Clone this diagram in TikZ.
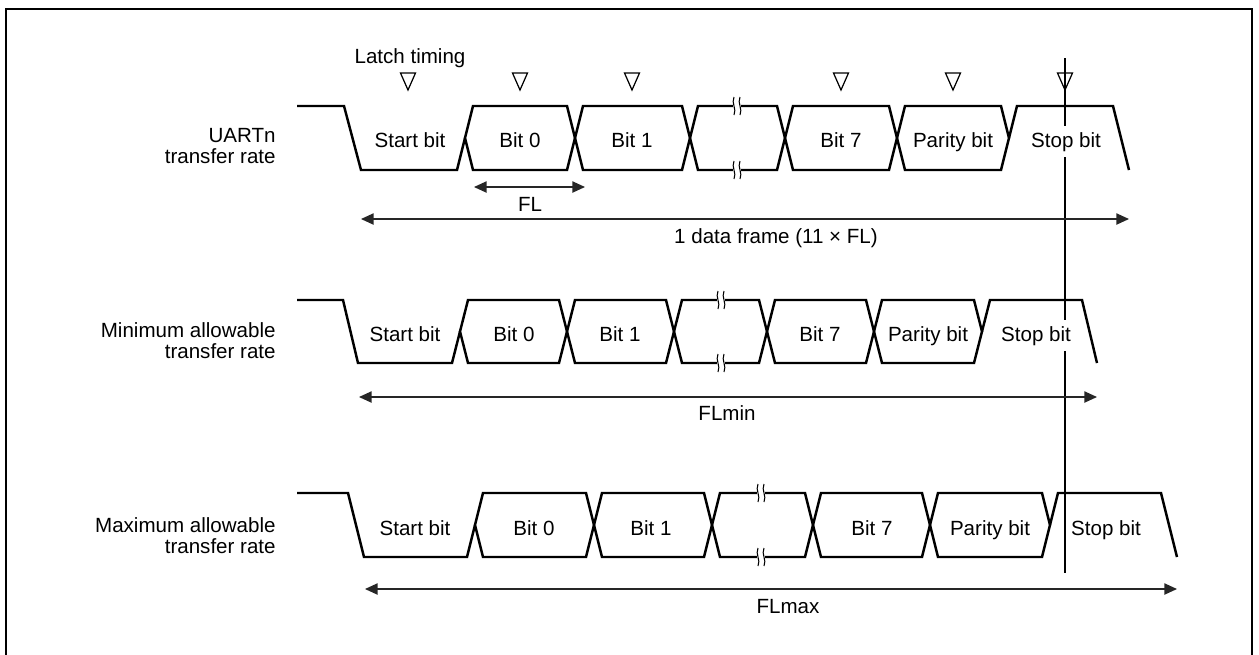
\documentclass[tikz,border=0pt]{standalone}
\usepackage{fontspec}
\setmainfont{Liberation Sans}
\usetikzlibrary{arrows.meta}

\begin{document}
\begin{tikzpicture}[x=0.02cm, y=-0.02cm, font=\fontsize{11.7}{12}\selectfont, >={Triangle[length=7.2pt,width=6.4pt]}]
    	\tikzstyle{wave}=[line width=1.4pt, line join=miter]
    	\tikzstyle{brk}=[line width=0.6pt]
    	\tikzstyle{latch}=[line width=0.7pt, line join=miter]
    	\tikzstyle{dim}=[<->, line width=0.8pt, draw=black!85]
    	\tikzstyle{bit}=[anchor=base, inner sep=0pt]
    	\tikzstyle{rate}=[anchor=north east, align=right, inner sep=0pt]

    	\useasboundingbox (0,0) rectangle (1259,654);
    	% Frame
    	\draw[line width=1.5pt] (6,656) -- (6,9) -- (1252,9) -- (1252,656);

    	% Latch timing
    	\node[bit] (latch) at (410,63) {Latch timing};
    	\foreach \x in {408,520,632,841,953,1065}
    		\draw[latch] (\x-7.5,73) -- (\x+7.5,73) -- (\x,90) -- cycle;

    	% UARTn transfer rate
    	\node[rate] (lab_1) at (276,128) {UARTn\\transfer rate};
    	\draw[wave] (297,106) -- (344,106) -- (361,170) -- (457,170) -- (465,138);
    	\foreach \a/\b in {465/575,575/690,690/785,785/897,897/1009}
    		\draw[wave] (\a,138) -- (\a+8,106) -- (\b-8,106) -- (\b,138) -- (\b-8,170) -- (\a+8,170) -- cycle;
    	\draw[wave] (1009,138) -- (1017,106) -- (1113,106) -- (1129,170);
    	\foreach \y in {106,170} {
    		\fill[white] (733,\y-3) rectangle (741,\y+3);
    		\draw[brk] (734,\y-9) .. controls (731,\y-3) and (737,\y+3) .. (734,\y+9);
    		\draw[brk] (740,\y-9) .. controls (737,\y-3) and (743,\y+3) .. (740,\y+9);
    	}

    	% Minimum allowable transfer rate
    	\node[rate] (lab_2) at (276,322) {Minimum allowable\\transfer rate};
    	\draw[wave] (297,300) -- (343,300) -- (358,363) -- (452,363) -- (460,331.5);
    	\foreach \a/\b in {460/567,567/674,674/767,767/874,874/982}
    		\draw[wave] (\a,331.5) -- (\a+8,300) -- (\b-8,300) -- (\b,331.5) -- (\b-8,363) -- (\a+8,363) -- cycle;
    	\draw[wave] (982,331.5) -- (990,300) -- (1082,300) -- (1097,363);
    	\foreach \y in {300,363} {
    		\fill[white] (717,\y-3) rectangle (725,\y+3);
    		\draw[brk] (718,\y-9) .. controls (715,\y-3) and (721,\y+3) .. (718,\y+9);
    		\draw[brk] (724,\y-9) .. controls (721,\y-3) and (727,\y+3) .. (724,\y+9);
    	}

    	% Maximum allowable transfer rate
    	\node[rate] (lab_3) at (276,517) {Maximum allowable\\transfer rate};
    	\draw[wave] (297,493) -- (348,493) -- (364,557) -- (467,557) -- (475,525);
    	\foreach \a/\b in {475/594,594/712,712/813,813/930,930/1050}
    		\draw[wave] (\a,525) -- (\a+8,493) -- (\b-8,493) -- (\b,525) -- (\b-8,557) -- (\a+8,557) -- cycle;
    	\draw[wave] (1050,525) -- (1058,493) -- (1161,493) -- (1177,557);
    	\foreach \y in {493,557} {
    		\fill[white] (757,\y-3) rectangle (765,\y+3);
    		\draw[brk] (758,\y-9) .. controls (755,\y-3) and (761,\y+3) .. (758,\y+9);
    		\draw[brk] (764,\y-9) .. controls (761,\y-3) and (767,\y+3) .. (764,\y+9);
    	}

    	% Sampling line
    	\coordinate (vt) at (1065,58);
    	\coordinate (vb) at (1065,573);
    	\draw[line width=0.6pt] (vt) -- (vb);

    	% Bit texts
    	\node[bit] (r1_start) at (410,147) {Start bit};
    	\node[bit] (r1_b0) at (520,147) {Bit 0};
    	\node[bit] (r1_b1) at (632,147) {Bit 1};
    	\node[bit] (r1_b7) at (841,147) {Bit 7};
    	\node[bit] (r1_par) at (953,147) {Parity bit};
    	\node[bit, fill=white, inner ysep=3.5pt] (r1_stop) at (1066,147) {Stop bit};

    	\node[bit] (r2_start) at (405,341) {Start bit};
    	\node[bit] (r2_b0) at (514,341) {Bit 0};
    	\node[bit] (r2_b1) at (620,341) {Bit 1};
    	\node[bit] (r2_b7) at (820,341) {Bit 7};
    	\node[bit] (r2_par) at (928,341) {Parity bit};
    	\node[bit, fill=white, inner ysep=3.5pt] (r2_stop) at (1036,341) {Stop bit};

    	\node[bit] (r3_start) at (415,535) {Start bit};
    	\node[bit] (r3_b0) at (534,535) {Bit 0};
    	\node[bit] (r3_b1) at (651,535) {Bit 1};
    	\node[bit] (r3_b7) at (872,535) {Bit 7};
    	\node[bit] (r3_par) at (990,535) {Parity bit};
    	\node[bit] (r3_stop) at (1106,535) {Stop bit};

    	%--------------------------------------------%
    	%                 Frame lengths              %
    	%--------------------------------------------%
    	\coordinate (fl_l) at (474,187);
    	\coordinate (fl_r) at (585,187);
    	\draw[dim] (fl_l) -- (fl_r);
    	\node[bit] (fl) at (530,211) {FL};

    	\coordinate (r1_l) at (361,219);
    	\coordinate (r1_r) at (1129,219);
    	\draw[dim] (r1_l) -- (r1_r);
    	\node[bit] (frame) at (776,243) {1 data frame (11 × FL)};

    	\coordinate (r2_l) at (359,397);
    	\coordinate (r2_r) at (1097,397);
    	\draw[dim] (r2_l) -- (r2_r);
    	\node[bit] (flmin) at (727,420) {FLmin};

    	\coordinate (r3_l) at (365,589);
    	\coordinate (r3_r) at (1177,589);
    	\draw[dim] (r3_l) -- (r3_r);
    	\node[bit] (flmax) at (788,613) {FLmax};
\end{tikzpicture}
\end{document}
